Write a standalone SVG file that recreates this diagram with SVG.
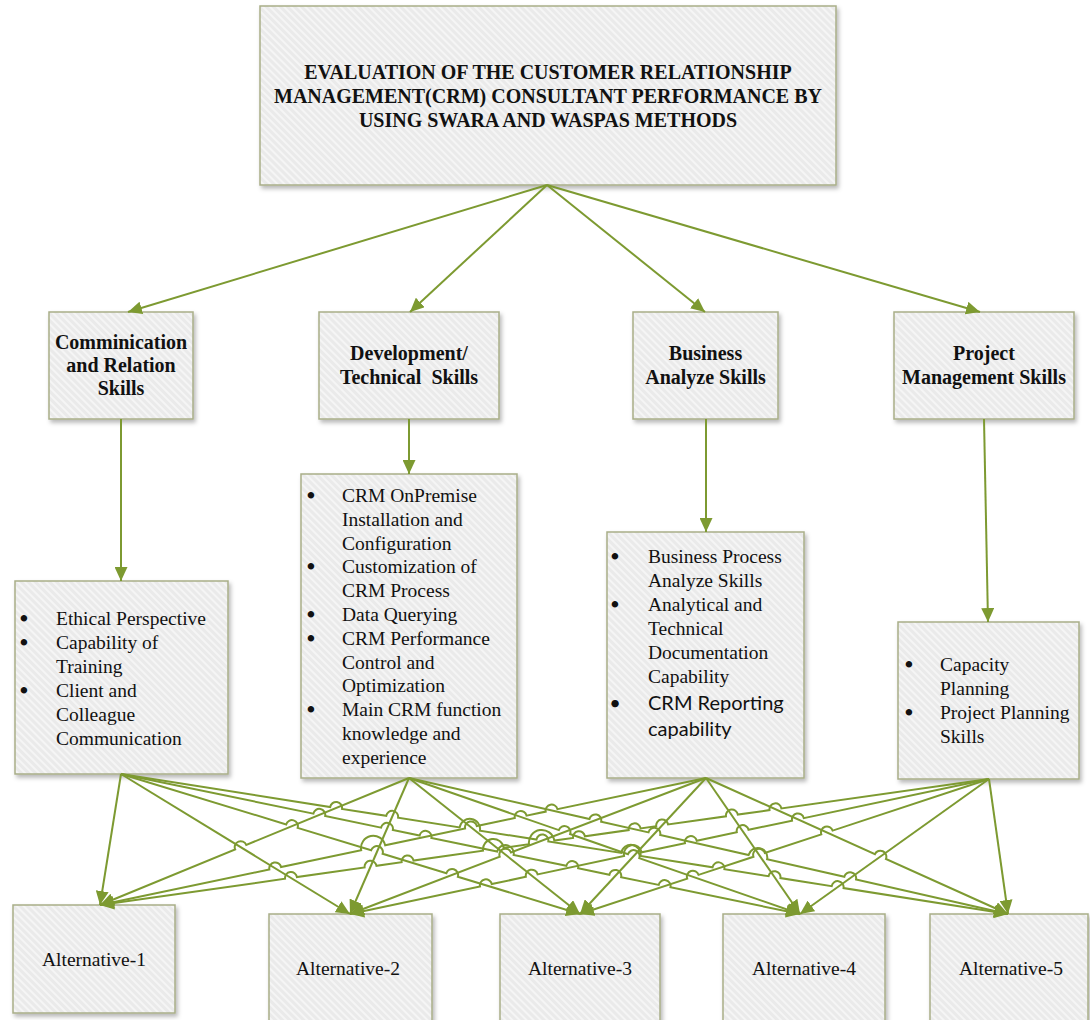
<svg xmlns="http://www.w3.org/2000/svg" width="1090" height="1020" viewBox="0 0 1090 1020">
  <defs>
    <!-- light grey fill with faint diagonal stripes -->
    <pattern id="hatch" patternUnits="userSpaceOnUse" width="5" height="5" patternTransform="rotate(-45)">
      <rect width="5" height="5" fill="#eaeaea"/>
      <rect width="2" height="5" fill="#f5f5f5"/>
    </pattern>
    <filter id="shadow" x="-10%" y="-10%" width="130%" height="130%">
      <feDropShadow dx="2" dy="3" stdDeviation="2" flood-color="#000" flood-opacity="0.28"/>
    </filter>
    <marker id="arrow" markerUnits="userSpaceOnUse" markerWidth="14" markerHeight="13" viewBox="0 0 14 13" refX="14" refY="6.5" orient="auto">
      <path d="M0,0 L14,6.5 L0,13 Z" fill="#7d9a31"/>
    </marker>
  </defs>
  <style>
    .box{fill:url(#hatch);stroke:#a9ae88;stroke-width:1.5;filter:url(#shadow)}
    .conn{fill:none;stroke:#7d9a31;stroke-width:2;marker-end:url(#arrow)}
    .hd{font-family:"Liberation Serif","Times New Roman",serif;font-weight:bold;font-size:20px;text-anchor:middle;fill:#111}
    .tx{font-family:"Liberation Serif","Times New Roman",serif;font-size:19.5px;fill:#111}
    .mid{text-anchor:middle}
    .bul{font-family:"Liberation Serif","Times New Roman",serif;font-size:19.5px;text-anchor:middle;fill:#111;stroke:#111;stroke-width:1.8}
    .cal{font-family:Lato,"Liberation Sans",sans-serif;font-size:20px;fill:#111}
  </style>

  <rect width="1090" height="1020" fill="#fff"/>

  <!-- goal -->
  <g id="goal">
    <rect class="box" x="260" y="6" width="576" height="179"/>
    <text class="hd" x="548" y="79">EVALUATION OF THE CUSTOMER RELATIONSHIP</text>
    <text class="hd" x="548" y="103">MANAGEMENT(CRM) CONSULTANT PERFORMANCE BY</text>
    <text class="hd" x="548" y="127">USING SWARA AND WASPAS METHODS</text>
  </g>

  <!-- criteria -->
  <g id="crit-communication">
    <rect class="box" x="49" y="312" width="144" height="107"/>
    <text class="hd" x="121" y="349">Comminication</text>
    <text class="hd" x="121" y="372">and Relation</text>
    <text class="hd" x="121" y="395">Skills</text>
  </g>
  <g id="crit-development">
    <rect class="box" x="319" y="312" width="180" height="107"/>
    <text class="hd" x="409" y="360">Development/</text>
    <text class="hd" x="409" y="384" xml:space="preserve">Technical  Skills</text>
  </g>
  <g id="crit-business">
    <rect class="box" x="633" y="312" width="145" height="107"/>
    <text class="hd" x="705.5" y="360">Business</text>
    <text class="hd" x="705.5" y="384">Analyze Skills</text>
  </g>
  <g id="crit-project">
    <rect class="box" x="894" y="312" width="180" height="107"/>
    <text class="hd" x="984" y="360">Project</text>
    <text class="hd" x="984" y="384">Management Skills</text>
  </g>

  <!-- sub-criteria lists -->
  <g id="sub-communication">
    <rect class="box" x="15" y="581" width="213" height="193"/>
    <text class="bul" x="24" y="625">•</text>
    <text class="bul" x="24" y="649">•</text>
    <text class="bul" x="24" y="697">•</text>
    <g class="tx">
      <text x="56" y="625">Ethical Perspective</text>
      <text x="56" y="649">Capability of</text>
      <text x="56" y="673">Training</text>
      <text x="56" y="697">Client and</text>
      <text x="56" y="721">Colleague</text>
      <text x="56" y="745">Communication</text>
    </g>
  </g>
  <g id="sub-development">
    <rect class="box" x="301" y="474" width="216" height="304"/>
    <text class="bul" x="311" y="502">•</text>
    <text class="bul" x="311" y="573.4">•</text>
    <text class="bul" x="311" y="621">•</text>
    <text class="bul" x="311" y="644.8">•</text>
    <text class="bul" x="311" y="716.2">•</text>
    <g class="tx">
      <text x="342" y="502">CRM OnPremise</text>
      <text x="342" y="525.8">Installation and</text>
      <text x="342" y="549.6">Configuration</text>
      <text x="342" y="573.4">Customization of</text>
      <text x="342" y="597.2">CRM Process</text>
      <text x="342" y="621">Data Querying</text>
      <text x="342" y="644.8">CRM Performance</text>
      <text x="342" y="668.6">Control and</text>
      <text x="342" y="692.4">Optimization</text>
      <text x="342" y="716.2">Main CRM function</text>
      <text x="342" y="740">knowledge and</text>
      <text x="342" y="763.8">experience</text>
    </g>
  </g>
  <g id="sub-business">
    <rect class="box" x="607" y="532" width="197" height="246"/>
    <text class="bul" x="615" y="563">•</text>
    <text class="bul" x="615" y="611">•</text>
    <g class="tx">
      <text x="648" y="563">Business Process</text>
      <text x="648" y="587">Analyze Skills</text>
      <text x="648" y="611">Analytical and</text>
      <text x="648" y="635">Technical</text>
      <text x="648" y="659">Documentation</text>
      <text x="648" y="683">Capability</text>
    </g>
    <g class="cal">
      <text x="615" y="710" text-anchor="middle">•</text>
      <text x="648" y="710">CRM Reporting</text>
      <text x="648" y="736">capability</text>
    </g>
  </g>
  <g id="sub-project">
    <rect class="box" x="898" y="622" width="181" height="157"/>
    <text class="bul" x="909" y="671">•</text>
    <text class="bul" x="909" y="719">•</text>
    <g class="tx">
      <text x="940" y="671">Capacity</text>
      <text x="940" y="695">Planning</text>
      <text x="940" y="719">Project Planning</text>
      <text x="940" y="743">Skills</text>
    </g>
  </g>

  <!-- alternatives -->
  <g id="alt-1">
    <rect class="box" x="13" y="905" width="162" height="108"/>
    <text class="tx mid" x="94" y="966">Alternative-1</text>
  </g>
  <g id="alt-2">
    <rect class="box" x="269" y="914" width="163" height="112"/>
    <text class="tx mid" x="348" y="975">Alternative-2</text>
  </g>
  <g id="alt-3">
    <rect class="box" x="500" y="914" width="160" height="112"/>
    <text class="tx mid" x="580" y="975">Alternative-3</text>
  </g>
  <g id="alt-4">
    <rect class="box" x="723" y="914" width="162" height="112"/>
    <text class="tx mid" x="804" y="975">Alternative-4</text>
  </g>
  <g id="alt-5">
    <rect class="box" x="930" y="914" width="158" height="112"/>
    <text class="tx mid" x="1011" y="975">Alternative-5</text>
  </g>

  <!-- connectors; line jumps are drawn as arcs on the flatter line of each crossing -->
  <g id="connectors" class="conn">
    <!-- goal to criteria -->
    <path d="M547,185 L128,312"/>
    <path d="M547,185 L410,312"/>
    <path d="M547,185 L705,312"/>
    <path d="M547,185 L980,312"/>
    <!-- criteria to sub-criteria -->
    <path d="M121,419 L121,581"/>
    <path d="M409,419 L409,474"/>
    <path d="M706,419 L706,532"/>
    <path d="M984,419 L988,622"/>

    <!-- communication list to alternatives -->
    <path d="M121,774 L100,905"/>
    <path d="M121,774 L350,914"/>
    <path d="M121,774 L286.17,824.38 A6,6 0 0 1 297.65,827.88 L371.15,850.30 A6,6 0 0 1 382.63,853.80 L446.37,873.24 A6,6 0 0 1 457.85,876.74 L580,914"/>
    <path d="M121,774 L313.39,813.67 A6,6 0 0 1 325.15,816.09 L381.09,827.63 A6,6 0 0 1 392.85,830.05 L419.60,835.57 A6,6 0 0 1 431.36,837.99 L497.15,851.56 A8.41,8.41 0 0 1 513.62,854.95 L566.36,865.83 A6,6 0 0 1 578.12,868.25 L609.38,874.70 A6,6 0 0 1 621.14,877.12 L658.71,884.87 A6,6 0 0 1 670.47,887.29 L800,914"/>
    <path d="M121,774 L330.17,807.01 A6,6 0 0 1 342.03,808.89 L386.24,815.86 A6,6 0 0 1 398.10,817.74 L459.67,827.45 A10.27,10.27 0 0 1 479.96,830.66 L536.46,839.57 A6,6 0 0 1 548.32,841.45 L621.29,852.96 A9.73,9.73 0 0 1 640.51,856.00 L712.53,867.36 A6,6 0 0 1 724.39,869.24 L768.61,876.21 A6,6 0 0 1 780.47,878.09 L831.71,886.17 A6,6 0 0 1 843.57,888.05 L1008,914"/>

    <!-- development list to alternatives -->
    <path d="M409,778 L246.25,844.90 A6,6 0 0 0 235.15,849.46 L100,905"/>
    <path d="M409,778 L350,914"/>
    <path d="M409,778 L580,914"/>
    <path d="M409,778 L558.78,830.10 A6,6 0 0 1 570.12,834.04 L627.95,854.16 A6,6 0 0 1 639.29,858.10 L800,914"/>
    <path d="M409,778 L589.46,818.97 A6,6 0 0 1 601.16,821.63 L648.52,832.38 A6,6 0 0 1 660.22,835.04 L748.58,855.10 A9.51,9.51 0 0 1 767.12,859.31 L844.34,876.84 A6,6 0 0 1 856.04,879.50 L1008,914"/>

    <!-- business list to alternatives -->
    <path d="M706,778 L557.44,809.14 A6,6 0 0 0 545.70,811.60 L526.54,815.61 A6,6 0 0 0 514.80,818.07 L476.81,826.03 A6,6 0 0 0 465.07,828.49 L385.17,845.24 A12.27,12.27 0 0 0 361.16,850.27 L281.08,867.05 A6,6 0 0 0 269.34,869.51 L100,905"/>
    <path d="M706,778 L510.99,852.51 A6,6 0 0 0 499.77,856.79 L350,914"/>
    <path d="M706,778 L580,914"/>
    <path d="M706,778 L800,914"/>
    <path d="M706,778 L874.96,854.09 A6,6 0 0 1 885.90,859.01 L1008,914"/>

    <!-- project list to alternatives -->
    <path d="M989,779 L781.38,808.43 A6,6 0 0 0 769.50,810.11 L737.82,814.60 A6,6 0 0 0 725.94,816.28 L668.09,824.49 A6,6 0 0 0 656.21,826.17 L640.58,828.39 A6,6 0 0 0 628.70,830.07 L584.91,836.28 A6,6 0 0 0 573.03,837.96 L554.28,840.61 A12.78,12.78 0 0 0 528.98,844.20 L503.74,847.78 A10.46,10.46 0 0 0 483.03,850.71 L413.53,860.57 A6,6 0 0 0 401.65,862.25 L376.48,865.82 A6,6 0 0 0 364.60,867.50 L296.94,877.09 A6,6 0 0 0 285.06,878.77 L100,905"/>
    <path d="M989,779 L803.76,818.14 A6,6 0 0 0 792.02,820.62 L748.53,829.80 A6,6 0 0 0 736.79,832.28 L696.71,840.75 A6,6 0 0 0 684.97,843.23 L641.84,852.34 A9.08,9.08 0 0 0 624.07,856.09 L537.60,874.37 A6,6 0 0 0 525.86,876.85 L491.75,884.05 A6,6 0 0 0 480.01,886.53 L350,914"/>
    <path d="M989,779 L832.68,830.60 A6,6 0 0 0 821.28,834.36 L764.83,852.99 A6,6 0 0 0 753.43,856.75 L698.58,874.86 A6,6 0 0 0 687.18,878.62 L580,914"/>
    <path d="M989,779 L800,914"/>
    <path d="M989,779 L1008,914"/>
  </g>
</svg>
